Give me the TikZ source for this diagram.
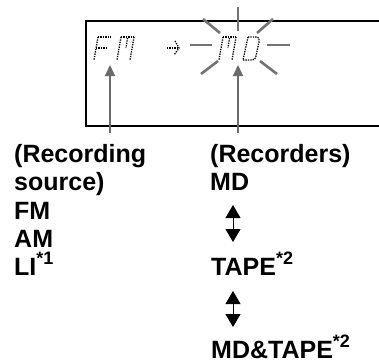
\documentclass[tikz,border=0pt]{standalone}
\usepackage{fontspec}
\setmainfont{Liberation Sans}
\usetikzlibrary{arrows.meta}
\begin{document}
\begin{tikzpicture}[x=1pt,y=-1pt,
  lbl/.style={anchor=base west,inner sep=0pt,font=\fontsize{25}{28}\selectfont\bfseries},
  frame/.style={draw=black,line width=1.3pt},
  burst/.style={draw=black!55,line width=2.6pt},
  lcd/.style={draw=black,line width=1.3pt,dash pattern=on 1.3pt off 1.1pt},
  ptr/.style={draw=black!58,line width=2pt,-{Triangle[width=10pt,length=11pt]}},
  swap/.style={draw=black,line width=1pt,{Triangle[width=15pt,length=13pt]}-{Triangle[width=15pt,length=13pt]}}]
\newcommand{\sstar}[1]{\smash{\raisebox{11pt}{\fontsize{18}{18}\selectfont *#1}}}
\useasboundingbox (0,0) rectangle (379,360);
% display frame
\draw[frame] (379,21) -- (86,21) -- (86,126) -- (379,126);
% LCD text FM
\draw[lcd] (98,37) -- (112,37);
\draw[lcd] (98,37) -- (94,60);
\draw[lcd] (96,48) -- (106,48);
\draw[lcd] (121,37) -- (134,37);
\draw[lcd] (121,37) -- (117,60);
\draw[lcd] (134,37) -- (130,60);
\draw[lcd] (127.5,38) -- (126,48);
% LCD arrow
\draw[lcd] (167,48) -- (179,48);
\draw[lcd] (175,41) -- (179,48) -- (174,55);
% LCD text MD
\draw[lcd] (223,37) -- (236,37);
\draw[lcd] (223,37) -- (219,60);
\draw[lcd] (236,37) -- (232,60);
\draw[lcd] (229.5,38) -- (228,48);
\draw[lcd] (248,37) -- (257,37) .. controls (259,37) and (259.5,39) .. (259,42) -- (256,56) .. controls (255.5,59) and (254.5,60) .. (252,60) -- (243,60);
\draw[lcd] (248,37) -- (243,60);
% burst around MD
\draw[burst] (238,7) -- (238,31);
\draw[burst] (203,19) -- (220,33);
\draw[burst] (273,19) -- (257,33);
\draw[burst] (190,45) -- (212,45);
\draw[burst] (267,45) -- (290,45);
\draw[burst] (201,74) -- (218,61);
\draw[burst] (260,61) -- (277,74);
% labels
\node[lbl] (rec1) at (14,162) {(Recording};
\node[lbl] (rec2) at (14,190) {source)};
\node[lbl] (fm) at (14,219) {FM};
\node[lbl] (am) at (14,247) {AM};
\node[lbl] (li) at (14,275) {LI\sstar{1}};
\node[lbl] (rcd) at (210,162) {(Recorders)};
\node[lbl] (md) at (210,190) {MD};
\node[lbl] (tape) at (211,275) {TAPE\sstar{2}};
\node[lbl] (mdtape) at (211,358) {MD\&TAPE\sstar{2}};
% pointers
\coordinate (p1s) at (110,133);
\coordinate (p1e) at (110,65);
\coordinate (p2s) at (238,133);
\coordinate (p2e) at (238,65);
\draw[ptr] (p1s) -- (p1e);
\draw[ptr] (p2s) -- (p2e);
% swap arrows
\coordinate (a1t) at (233,205);
\coordinate (a1b) at (233,242);
\coordinate (a2t) at (233,291);
\coordinate (a2b) at (233,327);
\draw[swap] (a1t) -- (a1b);
\draw[swap] (a2t) -- (a2b);
\end{tikzpicture}
\end{document}
